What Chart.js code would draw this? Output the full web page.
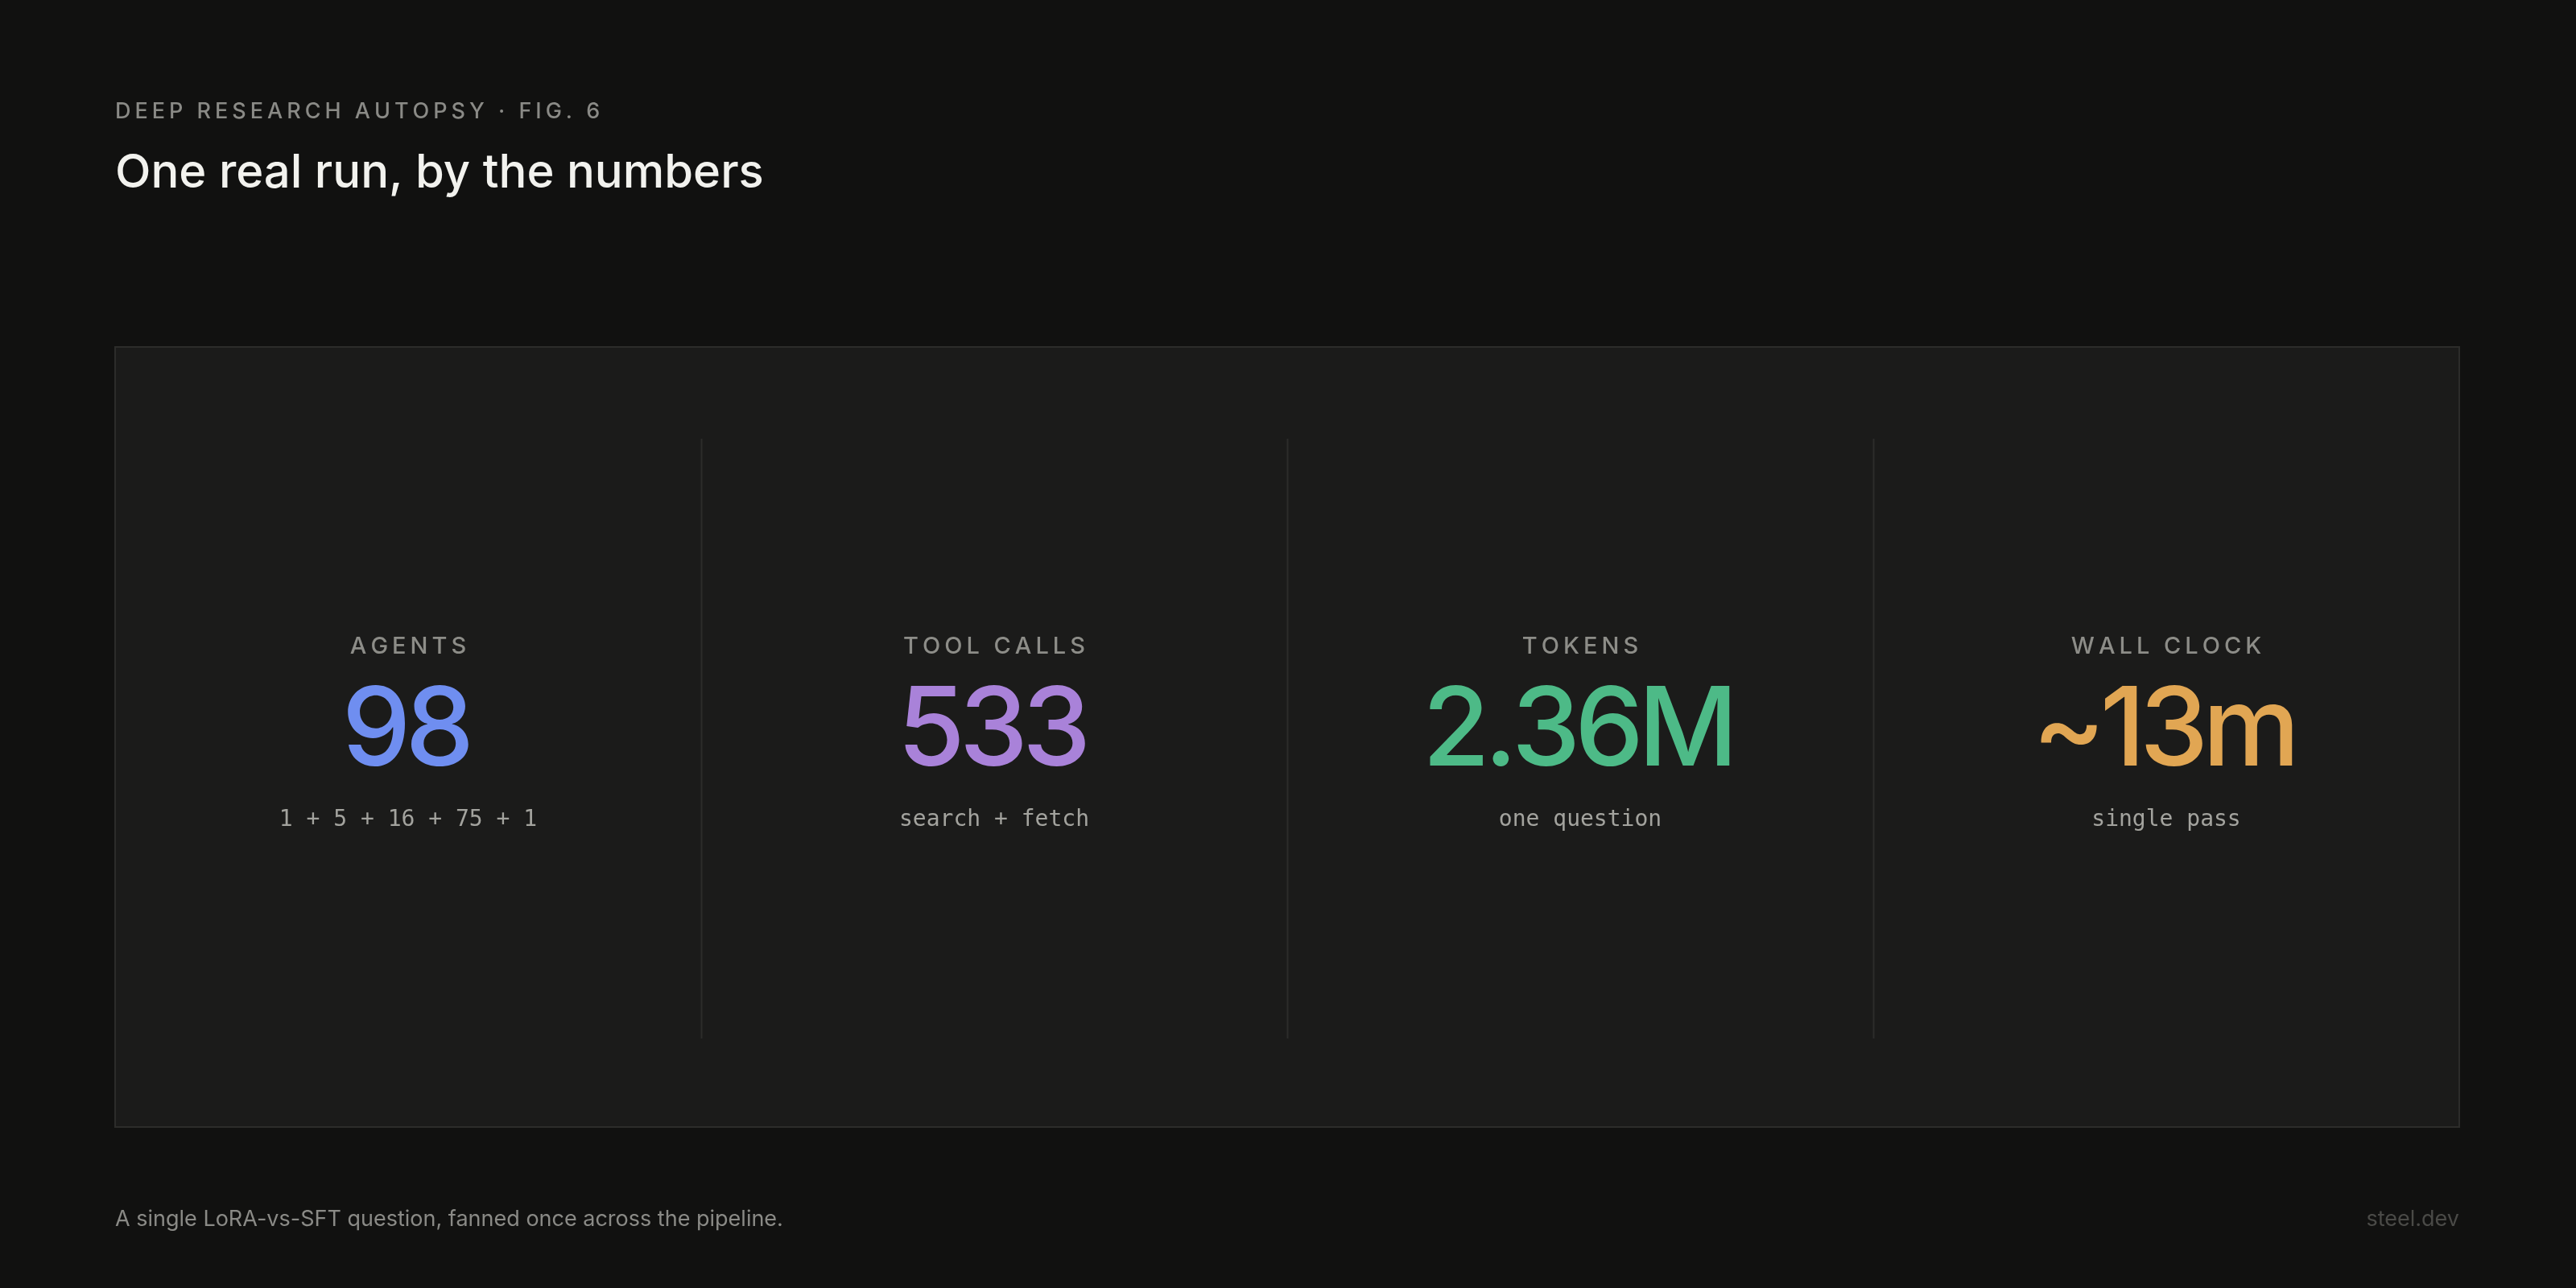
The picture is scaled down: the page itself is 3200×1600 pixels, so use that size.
<!DOCTYPE html>
<html>
<head>
<meta charset="utf-8">
<script src="https://cdn.jsdelivr.net/npm/chart.js@4"></script>
<style>
  html, body { margin: 0; padding: 0; background: #111110; }
  #wrap { width: 3200px; height: 1600px; position: relative; }
</style>
</head>
<body>
<div id="wrap"><canvas id="statsChart"></canvas></div>
<script>
const labels = ['AGENTS', 'TOOL CALLS', 'TOKENS', 'WALL CLOCK'];
const values = ['98', '533', '2.36M', '~13m'];
const subtitles = ['1 + 5 + 16 + 75 + 1', 'search + fetch', 'one question', 'single pass'];
const colors = ['#6f8ef0', '#a982d9', '#4dba87', '#e1a653'];

const mono = '"DejaVu Sans Mono", "Liberation Mono", monospace';
const sans = 'Inter, "Noto Sans", sans-serif';

function spaced(ctx, text, x, y, spacing) {
    // centred text with letter spacing
    let w = 0;
    for (const ch of text) w += ctx.measureText(ch).width + spacing;
    w -= spacing;
    let cx = x - w / 2;
    ctx.textAlign = 'left';
    for (const ch of text) {
        ctx.fillText(ch, cx, y);
        cx += ctx.measureText(ch).width + spacing;
    }
}

const statsPlugin = {
    id: 'stats',
    beforeDraw(chart) {
        const ctx = chart.ctx;
        const a = chart.chartArea;
        ctx.save();
        ctx.fillStyle = '#111110';
        ctx.fillRect(0, 0, chart.width, chart.height);
        ctx.fillStyle = '#1b1b1a';
        ctx.fillRect(a.left, a.top, a.right - a.left, a.bottom - a.top);
        ctx.strokeStyle = '#2c2c2a';
        ctx.lineWidth = 2;
        ctx.strokeRect(a.left, a.top, a.right - a.left, a.bottom - a.top);
        ctx.restore();
    },
    afterDraw(chart) {
        const ctx = chart.ctx;
        const a = chart.chartArea;
        const x = chart.scales.x;
        ctx.save();
        ctx.textBaseline = 'middle';

        // header
        ctx.fillStyle = '#8a8a86';
        ctx.font = '500 27px ' + sans;
        ctx.textAlign = 'left';
        let hx = 143;
        for (const ch of 'DEEP RESEARCH AUTOPSY · FIG. 6') {
            ctx.fillText(ch, hx, 139);
            hx += ctx.measureText(ch).width + 5;
        }
        ctx.fillStyle = '#f2f2ee';
        ctx.font = '500 58px ' + sans;
        ctx.fillText('One real run, by the numbers', 143, 216);

        // footer
        ctx.fillStyle = '#8a8a86';
        ctx.font = '27px ' + sans;
        ctx.fillText('A single LoRA-vs-SFT question, fanned once across the pipeline.', 143, 1515);
        ctx.fillStyle = '#4a4a47';
        ctx.textAlign = 'right';
        ctx.fillText('steel.dev', 3055, 1515);

        // dividers
        const step = (a.right - a.left) / labels.length;
        ctx.strokeStyle = '#2c2c2a';
        ctx.lineWidth = 2;
        for (let i = 1; i < labels.length; i++) {
            const dx = Math.round(a.left + step * i) + 0.5;
            ctx.beginPath();
            ctx.moveTo(dx, 545);
            ctx.lineTo(dx, 1290);
            ctx.stroke();
        }

        // stats
        labels.forEach((lab, i) => {
            const cx = x.getPixelForValue(i);
            ctx.fillStyle = '#8d8d88';
            ctx.font = '500 29px ' + sans;
            spaced(ctx, lab, cx, 803, 5);
            ctx.fillStyle = colors[i];
            ctx.font = '500 136px ' + sans;
            spaced(ctx, values[i], cx, 910, -7);
            ctx.fillStyle = '#a3a39e';
            ctx.font = '28px ' + mono;
            ctx.textAlign = 'center';
            ctx.fillText(subtitles[i], cx, 1019);
        });
        ctx.restore();
    }
};

new Chart(document.getElementById('statsChart'), {
    type: 'bar',
    data: {
        labels: labels,
        datasets: [{ data: labels.map(() => 0), backgroundColor: 'rgba(0,0,0,0)' }]
    },
    options: {
        responsive: true,
        maintainAspectRatio: false,
        animation: false,
        devicePixelRatio: 1,
        layout: { padding: { left: 143, right: 145, top: 431, bottom: 200 } },
        plugins: { legend: { display: false }, tooltip: { enabled: false } },
        scales: {
            x: { display: false, offset: true },
            y: { display: false, min: 0, max: 1 }
        }
    },
    plugins: [statsPlugin]
});
</script>
</body>
</html>
